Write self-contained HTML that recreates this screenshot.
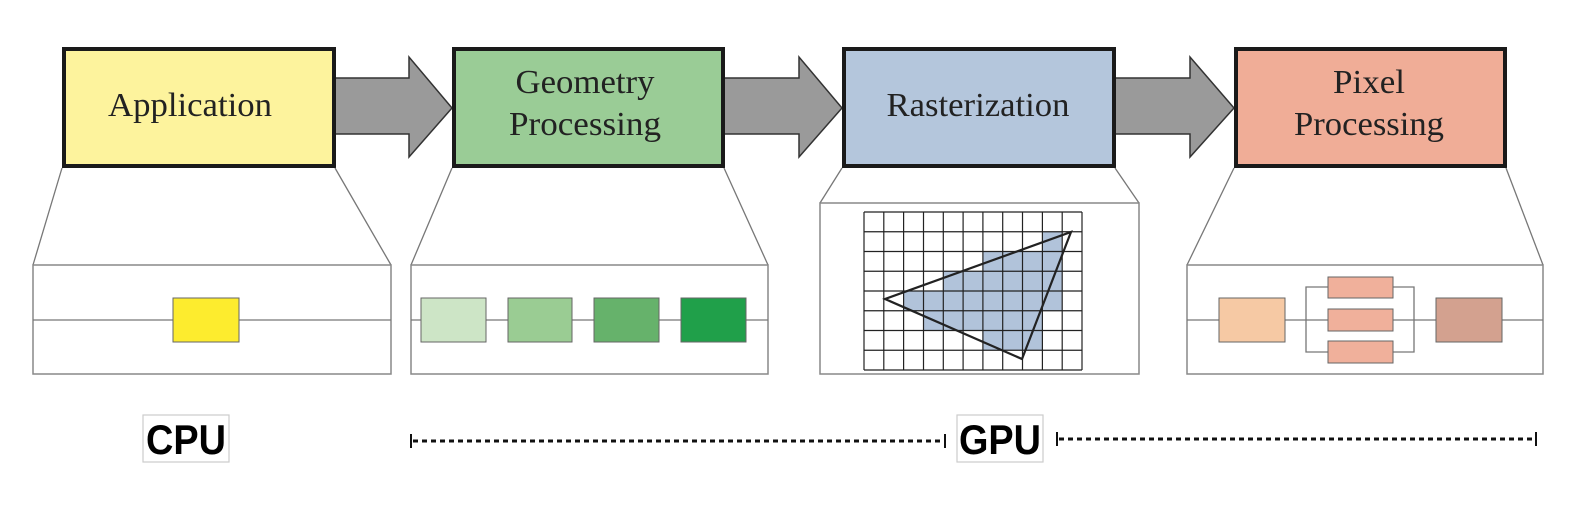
<!DOCTYPE html>
<html><head><meta charset="utf-8"><style>
html,body{margin:0;padding:0;background:#fff;}
svg{display:block;}
</style></head><body>
<svg width="1590" height="514" viewBox="0 0 1590 514" xmlns="http://www.w3.org/2000/svg">
<!-- arrows -->
<g fill="#9a9a9a" stroke="#333" stroke-width="1.5">
<polygon points="335,78 409,78 409,57 452,108 409,157 409,134 335,134"/>
<polygon points="724,78 799,78 799,57 842,108 799,157 799,134 724,134"/>
<polygon points="1115,78 1190,78 1190,57 1234,108 1190,157 1190,134 1115,134"/>
</g>
<!-- main boxes -->
<g stroke="#1a1a1a" stroke-width="4">
<rect x="64" y="49" width="270" height="117" fill="#fdf39d"/>
<rect x="454" y="49" width="269" height="117" fill="#9acc96"/>
<rect x="844" y="49" width="270" height="117" fill="#b4c6dc"/>
<rect x="1236" y="49" width="269" height="117" fill="#f0ad97"/>
</g>
<g font-family="Liberation Serif, serif" font-size="34" fill="#222" text-anchor="middle" lengthAdjust="spacingAndGlyphs">
<text x="190" y="116" textLength="164" lengthAdjust="spacingAndGlyphs">Application</text>
<text x="585" y="93" textLength="139" lengthAdjust="spacingAndGlyphs">Geometry</text>
<text x="585" y="135" textLength="152" lengthAdjust="spacingAndGlyphs">Processing</text>
<text x="978" y="116" textLength="183" lengthAdjust="spacingAndGlyphs">Rasterization</text>
<text x="1369" y="93" textLength="72" lengthAdjust="spacingAndGlyphs">Pixel</text>
<text x="1369" y="135" textLength="150" lengthAdjust="spacingAndGlyphs">Processing</text>
</g>
<!-- connector lines -->
<g stroke="#777" stroke-width="1.3" fill="none">
<line x1="62" y1="168" x2="33" y2="265"/><line x1="335" y1="168" x2="391" y2="265"/>
<line x1="452" y1="168" x2="411" y2="265"/><line x1="724" y1="168" x2="768" y2="265"/>
<line x1="842" y1="168" x2="820" y2="203"/><line x1="1115" y1="168" x2="1139" y2="203"/>
<line x1="1234" y1="168" x2="1187" y2="265"/><line x1="1506" y1="168" x2="1543" y2="265"/>
</g>
<!-- panels -->
<g stroke="#888" stroke-width="1.5" fill="#fff">
<rect x="33" y="265" width="358" height="109"/>
<rect x="411" y="265" width="357" height="109"/>
<rect x="820" y="203" width="319" height="171"/>
<rect x="1187" y="265" width="356" height="109"/>
</g>
<g stroke="#777" stroke-width="1.3">
<line x1="33" y1="320" x2="391" y2="320"/>
<line x1="411" y1="320" x2="768" y2="320"/>
<line x1="1187" y1="320" x2="1543" y2="320"/>
<polyline points="1328,287 1306,287 1306,352 1328,352" fill="none"/>
<polyline points="1393,287 1414,287 1414,352 1393,352" fill="none"/>
</g>
<g stroke="#666" stroke-width="1">
<rect x="173" y="298" width="66" height="44" fill="#fdec2e"/>
<rect x="421" y="298" width="65" height="44" fill="#cde5c6"/>
<rect x="508" y="298" width="64" height="44" fill="#9acc93"/>
<rect x="594" y="298" width="65" height="44" fill="#66b26b"/>
<rect x="681" y="298" width="65" height="44" fill="#20a04a"/>
<rect x="1219" y="298" width="66" height="44" fill="#f6c9a4"/>
<rect x="1328" y="277" width="65" height="21" fill="#f0b09b"/>
<rect x="1328" y="309" width="65" height="22" fill="#f0b09b"/>
<rect x="1328" y="341" width="65" height="22" fill="#f0b09b"/>
<rect x="1436" y="298" width="66" height="44" fill="#d3a18f"/>
</g>
<!-- raster grid shaded cells -->
<g fill="#b1c3da">
<rect x="1042" y="232" width="20" height="20"/>
<rect x="983" y="251" width="79" height="20"/>
<rect x="943" y="271" width="119" height="20"/>
<rect x="904" y="291" width="158" height="20"/>
<rect x="923" y="311" width="119" height="20"/>
<rect x="983" y="330" width="59" height="20"/>
</g>
<g stroke="#222" stroke-width="1.2">
<line x1="864" y1="212" x2="864" y2="370"/><line x1="883.8" y1="212" x2="883.8" y2="370"/><line x1="903.6" y1="212" x2="903.6" y2="370"/><line x1="923.5" y1="212" x2="923.5" y2="370"/><line x1="943.3" y1="212" x2="943.3" y2="370"/><line x1="963.1" y1="212" x2="963.1" y2="370"/><line x1="982.9" y1="212" x2="982.9" y2="370"/><line x1="1002.7" y1="212" x2="1002.7" y2="370"/><line x1="1022.5" y1="212" x2="1022.5" y2="370"/><line x1="1042.4" y1="212" x2="1042.4" y2="370"/><line x1="1062.2" y1="212" x2="1062.2" y2="370"/><line x1="1082" y1="212" x2="1082" y2="370"/>
<line x1="864" y1="212" x2="1082" y2="212"/><line x1="864" y1="231.75" x2="1082" y2="231.75"/><line x1="864" y1="251.5" x2="1082" y2="251.5"/><line x1="864" y1="271.25" x2="1082" y2="271.25"/><line x1="864" y1="291" x2="1082" y2="291"/><line x1="864" y1="310.75" x2="1082" y2="310.75"/><line x1="864" y1="330.5" x2="1082" y2="330.5"/><line x1="864" y1="350.25" x2="1082" y2="350.25"/><line x1="864" y1="370" x2="1082" y2="370"/>
</g>
<polygon points="885,299 1071,232 1022,359" fill="none" stroke="#222" stroke-width="2.2"/>
<!-- CPU / GPU -->
<g stroke="#ccc" stroke-width="1.2" fill="#fff">
<rect x="143" y="415" width="86" height="47"/>
<rect x="957" y="415" width="86" height="47"/>
</g>
<g font-family="Liberation Sans, sans-serif" font-weight="bold" font-size="42" fill="#000" text-anchor="middle">
<text x="186" y="454" textLength="80" lengthAdjust="spacingAndGlyphs">CPU</text>
<text x="1000" y="454" textLength="82" lengthAdjust="spacingAndGlyphs">GPU</text>
</g>
<g stroke="#111" stroke-width="3">
<line x1="413" y1="441" x2="942" y2="441" stroke-dasharray="5,4"/>
<line x1="1059" y1="439" x2="1533" y2="439" stroke-dasharray="5,4"/>
</g>
<g stroke="#111" stroke-width="2">
<line x1="411" y1="434" x2="411" y2="448"/><line x1="945" y1="434" x2="945" y2="448"/>
<line x1="1057" y1="432" x2="1057" y2="446"/><line x1="1536" y1="432" x2="1536" y2="446"/>
</g>
</svg>
</body></html>
